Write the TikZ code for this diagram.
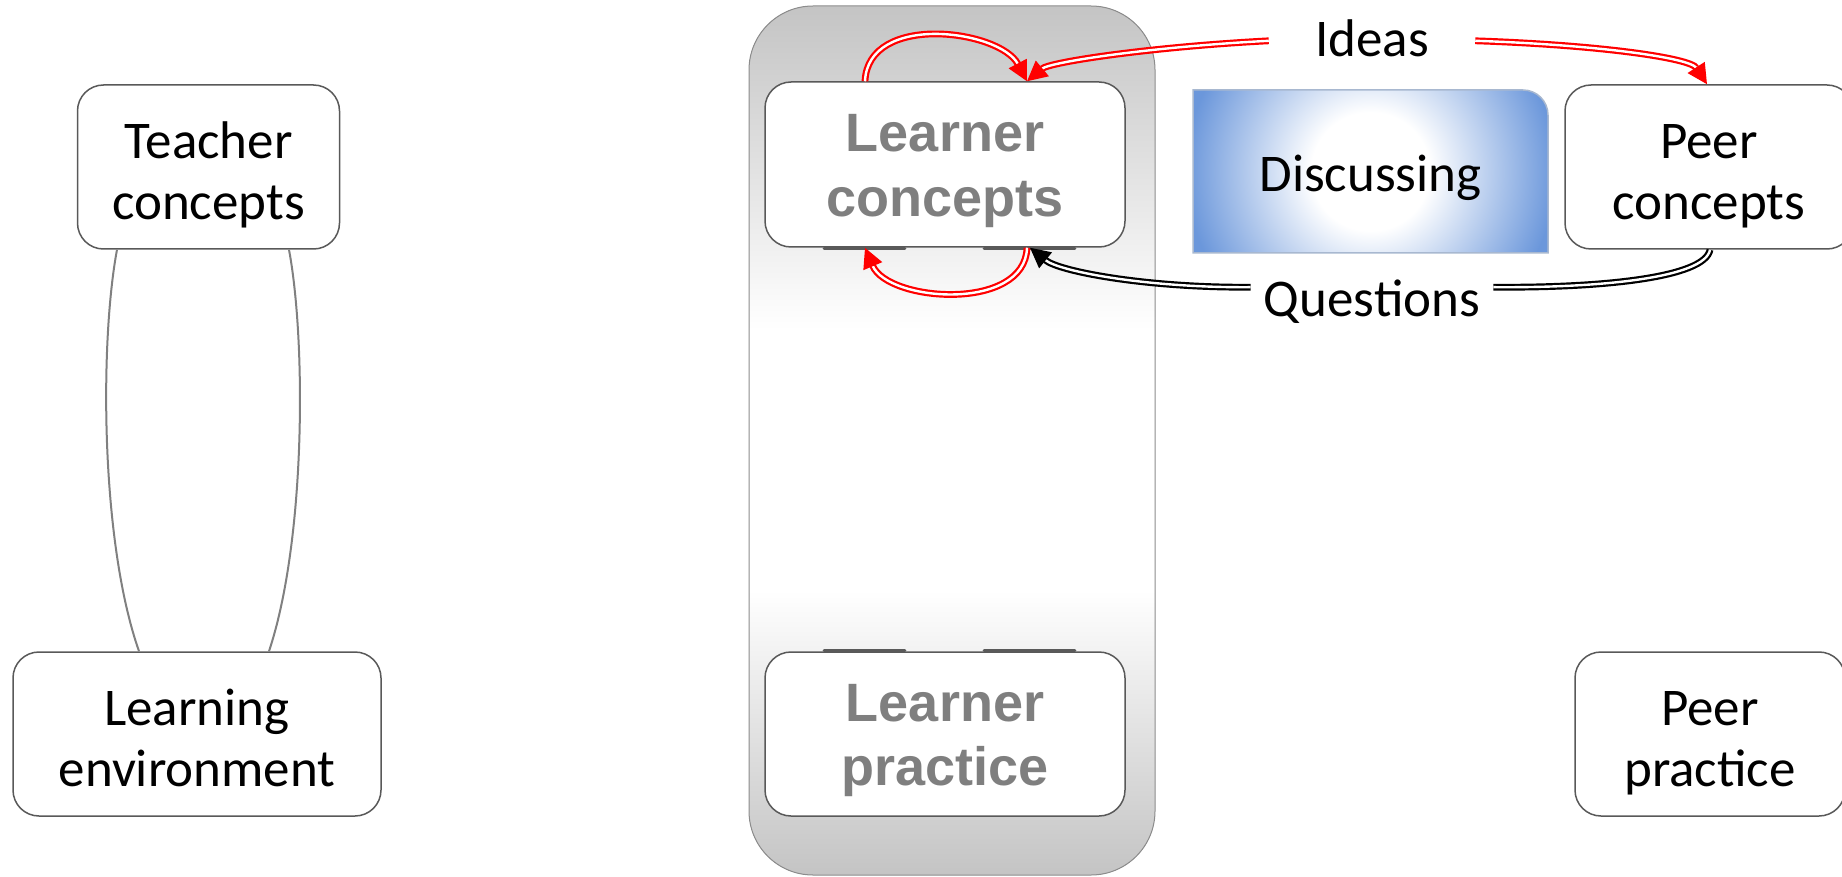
\documentclass[tikz,border=0pt]{standalone}
\usepackage{fontspec}
\setmainfont{Carlito}
\newfontfamily\lfont{Liberation Sans}
\usetikzlibrary{arrows.meta,calc}
\definecolor{boxline}{HTML}{595959}
\definecolor{learnergray}{HTML}{7F7F7F}
\definecolor{discblue}{HTML}{6B97DB}
\definecolor{discline}{HTML}{A8B8D0}
\definecolor{panelgray}{HTML}{C4C4C4}
\definecolor{panelline}{HTML}{8C8C8C}
\definecolor{linkgray}{HTML}{808080}
\definecolor{shadowgray}{HTML}{5A5A5A}
\pgfdeclareradialshading{discshade}{\pgfpointorigin}{color(0bp)=(white); color(8bp)=(white); color(25bp)=(discblue); color(50bp)=(discblue)}
\newcommand{\twolines}[3]{\raisebox{-#1}[\height][\depth]{\begin{tabular}{@{}c@{}}#2\\#3\end{tabular}}}
\begin{document}
\begin{tikzpicture}[x=0.5pt,y=-0.5pt,
  cbox/.style={draw=boxline, line width=0.75pt, fill=white, rounded corners=13pt,
    font=\fontsize{26.5}{30.5}\selectfont, inner sep=0pt},
  lbox/.style={cbox, font=\lfont\bfseries\fontsize{27}{32.3}\selectfont, text=learnergray},
  lbl/.style={font=\fontsize{26.5}{30.5}\selectfont, inner ysep=0pt},
  redlink/.style={draw=red, double=white, line width=1.1pt, double distance=1.2pt},
  blacklink/.style={draw=black, double=white, line width=1.1pt, double distance=1.2pt},
  tip/.style={-{Triangle[length=10pt,width=10pt]}},
  graylink/.style={draw=linkgray, line width=1pt},
  shadowseg/.style={draw=shadowgray, line width=1.4pt, line cap=round}
]
\useasboundingbox (0,0) rectangle (1842,877);

% learner panel
\begin{scope}
  \clip[rounded corners=32pt] (749,6) rectangle (1155,875);
  \fill[top color=panelgray, bottom color=white] (749,6) rectangle (1155,330);
  \fill[white] (749,329) rectangle (1155,591);
  \fill[top color=white, bottom color=panelgray] (749,590) rectangle (1155,875);
\end{scope}
\draw[draw=panelline, line width=0.5pt, rounded corners=32pt] (749,6) rectangle (1155,875);

% discussing shape
\begin{scope}
  \clip (1193,253) -- (1193,90) -- (1523,90) .. controls (1536.8,90) and (1548,101.2) .. (1548,115) -- (1548,253) -- cycle;
  \fill[discblue] (1193,90) rectangle (1548,253);
  \shade[shading=discshade] (1370.5,171.5) circle (185);
\end{scope}
\draw[draw=discline, line width=0.75pt] (1193,253) -- (1193,90) -- (1523,90) .. controls (1536.8,90) and (1548,101.2) .. (1548,115) -- (1548,253) -- cycle;
\node[lbl, anchor=base] (disc) at (1370.5,191.5) {Discussing};

% nodes
\node[cbox, minimum width=131pt, minimum height=82pt] (teacher) at (208.5,167) {\twolines{4.9pt}{Teacher}{concepts}};
\node[cbox, minimum width=184pt, minimum height=82pt] (env) at (197,734) {\twolines{4.9pt}{Learning}{environment}};
\node[lbox, minimum width=180pt, minimum height=82.5pt] (lc) at (945,164.5) {\twolines{3.2pt}{Learner}{concepts}};
\node[lbox, minimum width=180pt, minimum height=82pt] (lp) at (945,734) {\twolines{3.2pt}{Learner}{practice}};
\node[cbox, minimum width=144pt, minimum height=82pt] (pc) at (1709,167) {\twolines{4.9pt}{Peer}{concepts}};
\node[cbox, minimum width=135pt, minimum height=82pt] (pp) at (1710,734) {\twolines{4.9pt}{Peer}{practice}};

% shadow segments
\draw[shadowseg] ($(lc.south)+(-121,0.5)$) -- ($(lc.south)+(-40,0.5)$);
\draw[shadowseg] ($(lc.south)+(39,0.5)$) -- ($(lc.south)+(130,0.5)$);
\draw[shadowseg] ($(lp.north)+(-121,-0.5)$) -- ($(lp.north)+(-40,-0.5)$);
\draw[shadowseg] ($(lp.north)+(39,-0.5)$) -- ($(lp.north)+(130,-0.5)$);

% teacher - environment links
\draw[graylink] ($(teacher.south)+(-91.5,0)$) .. controls (100,340) and (100,540) .. ($(env.north)+(-58,0)$);
\draw[graylink] ($(teacher.south)+(80.5,0)$) .. controls (306,340) and (306,540) .. ($(env.north)+(72,0)$);

% labels
\node[lbl, anchor=base, inner xsep=23pt] (ideas) at (1372,57) {Ideas};
\node[lbl, anchor=base, inner xsep=6.5pt] (quest) at (1372,316) {Questions};
\coordinate (iL) at ($(ideas.west)+(0,2)$);
\coordinate (iR) at ($(ideas.east)+(0,2)$);
\coordinate (qL) at ($(quest.west)+(0,-14)$);
\coordinate (qR) at ($(quest.east)+(0,-14)$);

% loops on learner concepts
\draw[redlink, tip] ($(lc.north)+(-80,0)$) .. controls (868,12) and (1000,30) .. ($(lc.north)+(82,0)$);
\draw[redlink, tip] ($(lc.south)+(82,0)$) .. controls (1025,312) and (888,302) .. ($(lc.south)+(-80,0)$);

% ideas
\draw[redlink, tip] (iL) .. controls (1150,47) and (1050,62) .. ($(lc.north)+(82,0)$);
\draw[redlink, tip] (iR) .. controls (1600,45) and (1690,58) .. ($(pc.north)+(-2,0)$);

% questions
\draw[blacklink] ($(pc.south)+(1,0)$) .. controls (1705,278) and (1600,288) .. (qR);
\draw[blacklink, tip] (qL) .. controls (1150,288) and (1060,272) .. ($(lc.south)+(85,0)$);
\end{tikzpicture}
\end{document}
